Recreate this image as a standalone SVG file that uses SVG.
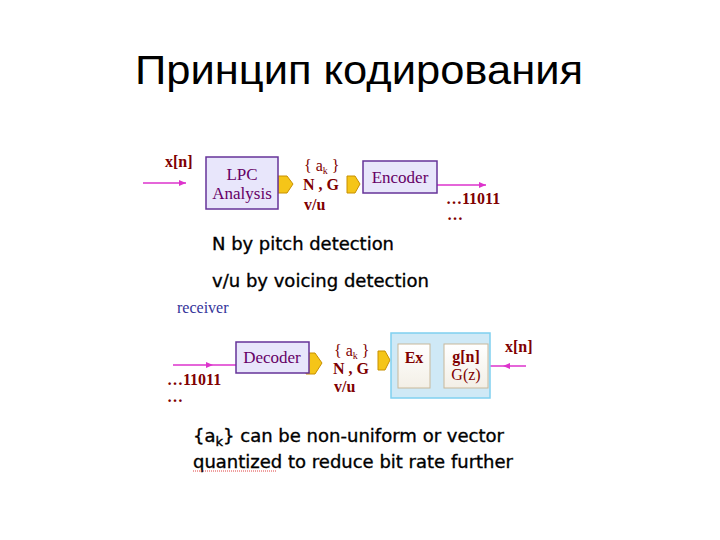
<svg xmlns="http://www.w3.org/2000/svg" width="720" height="540" viewBox="0 0 720 540">
<defs>
<style>
.title{font-family:"Liberation Sans",Arial,sans-serif;font-size:40px;fill:#000}
.bl{font-family:"Liberation Serif","Times New Roman",serif;font-size:17px;fill:#660066}
.lab{font-family:"Liberation Serif","Times New Roman",serif;font-size:16px;font-weight:bold;fill:#800000}
.sym{font-family:"Liberation Serif","Times New Roman",serif;font-size:16px;fill:#800000}
.note{font-family:"DejaVu Sans",Tahoma,sans-serif;font-size:18px;fill:#000;stroke:#000;stroke-width:0.35}
.box{fill:#e8e6fb;stroke:#663399;stroke-width:1.5}
.wire{stroke:#dd33cc;stroke-width:1.6;fill:none}
.ya{fill:#f5c518;stroke:#c89000;stroke-width:1}
</style>
<marker id="ah" markerWidth="8" markerHeight="8" refX="7" refY="4" orient="auto" markerUnits="userSpaceOnUse">
<path d="M0,1 L7,4 L0,7 Z" fill="#dd33cc"/>
</marker>
<linearGradient id="wg" x1="0" y1="0" x2="0" y2="1">
<stop offset="0" stop-color="#ffffff"/>
<stop offset="1" stop-color="#f3efe6"/>
</linearGradient>
</defs>
<rect width="720" height="540" fill="#fff"/>
<text class="title" x="135" y="84" textLength="448" lengthAdjust="spacingAndGlyphs">Принцип кодирования</text>

<g id="connectors">
<line class="wire" x1="143" y1="183" x2="186" y2="183" marker-end="url(#ah)"/>
<line class="wire" x1="437" y1="185" x2="486" y2="185" marker-end="url(#ah)"/>
<line class="wire" x1="173" y1="365" x2="236" y2="365"/>
<path d="M206,362 L213,365 L206,368 Z" fill="#dd33cc"/>
<line class="wire" x1="430" y1="361" x2="443" y2="361" marker-end="url(#ah)"/>
<line class="wire" x1="488" y1="366" x2="526" y2="366"/>
<path d="M510,363 L503,366 L510,369 Z" fill="#dd33cc"/>
<path class="ya" d="M278,176 L287,176 L293,184 L287,193 L278,193 Z"/>
<path class="ya" d="M347,176 L355,176 L360,184 L355,193 L347,193 Z"/>
<path class="ya" d="M306,353 L315,353 L322,363 L315,374 L306,374 Z"/>
<path class="ya" d="M378,351 L385,351 L390,360 L385,370 L378,370 Z"/>
</g>

<g id="input-top">
<text class="lab" x="165" y="167">x[n]</text>
</g>
<g id="lpc">
<rect class="box" x="206" y="157" width="72" height="52"/>
<text class="bl" x="242" y="180" text-anchor="middle">LPC</text>
<text class="bl" x="242" y="199" text-anchor="middle">Analysis</text>
</g>
<g id="params-top">
<text class="sym" x="304" y="171">{ a<tspan font-size="10" dy="3">k</tspan><tspan dy="-3"> }</tspan></text>
<text class="lab" x="303" y="190">N , G</text>
<text class="lab" x="304" y="210">v/u</text>
</g>
<g id="encoder">
<rect class="box" x="363" y="161" width="74" height="32"/>
<text class="bl" x="400" y="183" text-anchor="middle">Encoder</text>
</g>
<g id="bits-top">
<text class="lab" x="446" y="204">…11011</text>
<text class="lab" x="447" y="220">…</text>
</g>

<g id="notes">
<text class="note" x="212" y="250" textLength="182" lengthAdjust="spacingAndGlyphs">N by pitch detection</text>
<text class="note" x="212" y="287" textLength="217" lengthAdjust="spacingAndGlyphs">v/u by voicing detection</text>
</g>

<g id="receiver">
<text x="177" y="313" font-family="Liberation Serif,serif" font-size="16" fill="#333399">receiver</text>
</g>
<g id="bits-bottom">
<text class="lab" x="167" y="385">…11011</text>
<text class="lab" x="167" y="402">…</text>
</g>
<g id="decoder">
<rect class="box" x="236" y="342" width="73" height="31"/>
<text class="bl" x="272" y="363" text-anchor="middle">Decoder</text>
</g>
<g id="params-bottom">
<text class="sym" x="334" y="356">{ a<tspan font-size="10" dy="3">k</tspan><tspan dy="-3"> }</tspan></text>
<text class="lab" x="333" y="374">N , G</text>
<text class="lab" x="334" y="392">v/u</text>
</g>
<g id="synth">
<rect x="391" y="333" width="99" height="65" fill="#cfe9f6" stroke="#7fd0f0" stroke-width="1.5"/>
</g>
<g id="ex">
<rect x="398" y="344" width="32" height="44" fill="url(#wg)" stroke="#c8b89a" stroke-width="1"/>
<text class="lab" x="414" y="363" text-anchor="middle" font-size="14">Ex</text>
</g>
<g id="gn">
<rect x="444" y="344" width="44" height="44" fill="url(#wg)" stroke="#c8b89a" stroke-width="1"/>
<text class="lab" x="466" y="362" text-anchor="middle">g[n]</text>
<text class="sym" x="466" y="380" text-anchor="middle" font-size="14">G(z)</text>
</g>
<g id="output-bottom">
<text class="lab" x="505" y="352">x[n]</text>
</g>

<g id="footnote">
<text class="note" x="193" y="442" textLength="311" lengthAdjust="spacingAndGlyphs">{a<tspan font-size="13" dy="4">k</tspan><tspan dy="-4">} can be non-uniform or vector</tspan></text>
<text class="note" x="193" y="468" textLength="320" lengthAdjust="spacingAndGlyphs">quantized to reduce bit rate further</text>
<line x1="193" y1="471" x2="277" y2="471" stroke="#e04040" stroke-width="1" stroke-dasharray="1,1"/>
</g>
</svg>
